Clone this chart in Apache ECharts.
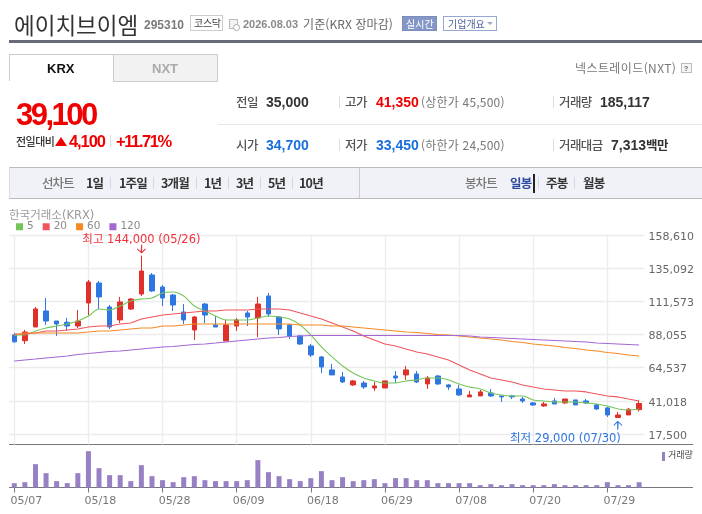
<!DOCTYPE html>
<html lang="ko"><head><meta charset="utf-8">
<style>
html,body{margin:0;padding:0;background:#fff;width:702px;height:514px;overflow:hidden}
#chart{position:absolute;left:0;top:0;width:702px;height:514px}
#head{position:absolute;left:0;top:0;width:702px;height:205px}
#head span{position:absolute;white-space:nowrap;transform:translateY(-50%);line-height:1;font-family:"Noto Sans CJK KR","Liberation Sans",sans-serif}
#head i{position:absolute;display:block;box-sizing:border-box}
</style>
<script src="https://cdn.jsdelivr.net/npm/echarts@6/dist/echarts.min.js"></script>
</head><body>
<div id="chart"></div><div id="head"></div>
<script>
const dates=["05/07","05/08","05/11","05/12","05/13","05/14","05/15","05/18","05/19","05/20","05/21","05/22","05/26","05/27","05/28","05/29","06/01","06/02","06/04","06/05","06/08","06/09","06/10","06/11","06/12","06/15","06/16","06/17","06/18","06/19","06/22","06/23","06/24","06/25","06/26","06/29","06/30","07/01","07/02","07/03","07/06","07/07","07/08","07/09","07/10","07/13","07/14","07/15","07/16","07/20","07/21","07/22","07/23","07/24","07/27","07/28","07/29","07/30","07/31","08/03"];
const opens=[87700,83650,93350,104700,97600,96700,94050,110400,124550,107550,98350,106100,116750,130250,121700,116050,104000,91250,109650,94800,83450,94050,103300,99750,115350,100450,94800,87000,79900,72100,62900,57900,52250,53650,50100,50100,58600,59350,60050,52950,58600,52250,49400,43750,44450,46550,44450,44450,42300,39500,37350,40900,39500,41600,40900,38050,35950,29200,30950,34700];
const closes=[82800,89800,106150,97600,95500,94050,97600,125250,114650,93350,111100,113200,133050,118900,113900,108950,98350,100450,101850,93350,94800,98350,100450,109650,102600,91950,86950,81300,73500,65000,59350,54350,55100,50800,51550,55100,57200,62900,54350,57200,52950,50800,45150,45150,47300,44450,43750,43750,40900,38050,38750,38750,42300,38050,39500,35200,30950,30950,35000,39100];
const lows=[82300,81300,93350,94800,87000,90550,92650,101850,106100,91950,96200,105400,115350,118200,108250,104700,95500,84150,96200,93350,83450,90550,94050,86250,100450,87700,84850,80600,72100,60750,59350,53650,51550,49400,48000,50100,53650,55800,53650,49400,52250,48700,44450,43750,44450,43750,40200,42300,39500,37350,36650,38750,38750,38050,38750,34500,29550,29000,30950,33450];
const highs=[89100,91250,107550,113900,97600,99750,105400,126700,126000,108950,114650,113900,144000,131650,123150,116750,109650,101150,110400,101150,98350,99750,104700,114650,117450,101150,95500,87700,81300,72800,67150,61450,55800,55100,54350,55100,62150,65700,62150,58600,59350,52950,52250,48000,48700,49400,44450,45150,43750,40200,40200,43000,42300,41600,42300,38750,36650,33100,35950,41350];
const ma5=[87700,87700,90550,92650,94050,95500,97600,101150,106100,105400,108250,111800,113200,113900,117450,118200,115350,108250,104700,101150,98350,98350,98350,99750,101150,100450,99050,94800,87700,79200,72100,65700,60750,57200,55100,53650,53650,55100,55800,57200,57200,55800,52950,50800,49400,46550,45150,44450,44450,41600,40900,40200,40200,40200,39500,38750,37350,35200,34500,35200];
const ma20=[88400,88400,89100,90550,90550,91250,91950,93350,94050,94050,95500,96200,99050,100450,101850,102600,103300,104000,104700,104700,105400,105400,105400,106100,106100,106100,105400,103300,101150,99050,96200,93350,90550,87000,84150,81300,79900,77750,75650,74200,72100,69950,66400,62900,60050,57200,55800,54350,52250,50800,49400,48700,48000,48000,47300,45850,44450,43750,42300,40900];
const ma60=[87700,89100,89100,89100,89100,89100,89100,89800,90550,90550,91250,91950,92650,92650,94050,94050,94800,95500,95500,95500,95500,95500,95500,95500,95500,95500,95500,94800,94800,94800,94050,94050,93350,92650,91950,91250,90550,89800,89450,88750,88050,87700,87000,86250,85550,84850,84150,83100,82350,81300,80600,79900,78800,78100,77050,76350,75300,74550,73500,72800];
const ma120=[69250,69950,70650,71400,72100,72800,73850,74550,75300,76000,76350,77050,77750,78450,79200,79550,80250,80950,81300,82000,82750,83450,84150,84850,85550,85900,86650,87000,87350,87350,87350,87350,87350,87350,87350,87350,87350,87350,87350,87350,87350,87350,87350,87000,86250,85900,85550,85200,84850,84500,84150,83800,83450,83100,82750,82000,81650,81300,80950,80600];
const volumes=[152000,187000,817000,502000,222000,152000,502000,1272000,677000,432000,432000,222000,782000,397000,257000,187000,362000,397000,257000,222000,222000,222000,257000,957000,537000,397000,292000,222000,327000,572000,257000,362000,222000,257000,292000,152000,327000,327000,257000,257000,152000,152000,152000,152000,82000,117000,82000,117000,82000,82000,82000,117000,82000,82000,82000,82000,187000,82000,82000,185117];
const yTicks=[17500,41018,64537,88055,111573,135092,158610];
const maNames=["5","20","60","120"];
const maColors=["#74c658","#f0555c","#f58a24","#a368d2"];
const RED="#e0302a",BLUE="#2f77e0",VOL="#9880c4";
const arrow="path://M4.5 0h1v7.2l3-3 .7.7L5 9.4.3 4.9l.7-.7 3 3z";
const sans="DejaVu Sans, Noto Sans CJK KR, sans-serif";

const ch=echarts.init(document.getElementById('chart'));
const maSeries=[ma5,ma20,ma60,ma120].map((d,i)=>({name:maNames[i],type:'line',data:d,xAxisIndex:0,yAxisIndex:0,symbol:'none',smooth:i===0?0.3:false,z:5,lineStyle:{width:1.1,color:maColors[i]},itemStyle:{color:maColors[i]},emphasis:{disabled:true}}));
ch.setOption({
 animation:false,
 grid:[{left:9,top:235,width:635.4,height:209.5},{left:9,top:448,width:635.4,height:39.5}],
 legend:{left:16,top:221.5,padding:0,itemWidth:7,itemHeight:7,itemGap:9,icon:'rect',selectedMode:false,data:maNames,textStyle:{fontFamily:sans,fontSize:10.5,color:'#8a8a8a',padding:[0,0,0,-1]}},
 xAxis:[
  {type:'category',gridIndex:0,data:dates,axisLine:{show:false},axisTick:{show:false},axisLabel:{show:false},
   splitLine:{show:true,alignWithLabel:true,interval:6,lineStyle:{color:'#ececec',width:1.3}}},
  {type:'category',gridIndex:1,data:dates,axisLine:{show:false},
   axisTick:{show:true,alignWithLabel:true,interval:6,length:5,lineStyle:{color:'#777'}},
   axisLabel:{interval:6,fontFamily:sans,fontSize:11,color:'#777',margin:8,padding:[0,0,0,24],hideOverlap:false},
   splitLine:{show:false}}
 ],
 yAxis:[
  {type:'value',gridIndex:0,position:'right',min:10000,max:158610,
   axisLine:{show:false},axisTick:{show:false,customValues:yTicks},
   axisLabel:{customValues:yTicks,margin:4,verticalAlign:'top',lineHeight:4,fontFamily:sans,fontSize:11,color:'#666',formatter:v=>Number(v).toLocaleString('en-US')},
   splitLine:{show:true,customValues:yTicks,lineStyle:{color:'#ececec',width:1.3}}},
  {type:'value',gridIndex:1,min:0,max:1382500,show:false,splitLine:{show:false}}
 ],
 series:[
  {name:'price',type:'candlestick',xAxisIndex:0,yAxisIndex:0,barWidth:5,z:3,
   data:opens.map((o,i)=>[o,closes[i],lows[i],highs[i]]),
   itemStyle:{color:RED,color0:BLUE,borderColor:RED,borderColor0:BLUE,borderWidth:1},
   markPoint:{symbol:arrow,symbolSize:[9,9],silent:true,z:8,data:[
     {coord:[12,144000],symbolOffset:[0,-6.5],itemStyle:{color:'#e8333a'},
      label:{show:true,position:'inside',offset:[0,-9],formatter:'최고 144,000 (05/26)',color:'#f0323c',fontFamily:sans,fontSize:11.5}},
     {coord:[57,29000],symbolRotate:180,symbolOffset:[0,7.5],itemStyle:{color:'#2f77e0'},
      label:{show:true,position:'inside',offset:[-52.5,13.5],rotate:0,formatter:'최저 29,000 (07/30)',color:'#2f77e0',fontFamily:sans,fontSize:11.5}}
   ]}},
  ...maSeries,
  {name:'volume',type:'bar',xAxisIndex:1,yAxisIndex:1,barWidth:5,data:volumes,itemStyle:{color:VOL},emphasis:{disabled:true}}
 ],
 graphic:[
  {type:'text',left:9,top:210.5,style:{text:'한국거래소(KRX)',fontFamily:sans,fontSize:11.5,fill:'#9a9a9a'}},
  {type:'line',shape:{x1:9,y1:444.5,x2:693,y2:444.5},style:{stroke:'#75787d',lineWidth:1}},
  {type:'line',shape:{x1:9,y1:487.5,x2:693,y2:487.5},style:{stroke:'#75787d',lineWidth:1}},
  {type:'rect',shape:{x:662,y:452,width:3,height:9},style:{fill:VOL}},
  {type:'text',left:668,top:451,style:{text:'거래량',fontFamily:sans,fontSize:9,fill:'#444'}}
 ]
});

const H=document.getElementById('head');
function t(x,y,s,st){const e=document.createElement('span');e.textContent=s;e.style.cssText=`left:${x}px;top:${y}px;`+(st||'');H.appendChild(e);return e}
function b(x,y,w,h,st){const e=document.createElement('i');e.style.cssText=`left:${x}px;top:${y}px;width:${w}px;height:${h}px;`+(st||'');H.appendChild(e);return e}
const LB='font-family:"Liberation Sans",sans-serif;font-weight:700;';
const NUM=LB+'font-size:14px;';
t(14,24,'에이치브이엠','font-size:22.5px;color:#333;');
t(144,24.5,'295310',LB+'font-size:12px;color:#7a7a7a;');
b(190,15,33,16,'border:1px solid #ccc;');
t(194,23,'코스닥','font-size:10px;color:#444;letter-spacing:-.3px;');
b(229,19,9,10,'border:1px solid #bbb;background:#f2f2f2;');
b(233,24,7,7,'border:1px solid #aaa;border-radius:50%;background:#fff;');
t(243,23.5,'2026.08.03',LB+'font-size:11px;color:#8a8a8a;');
t(303,23.5,'기준(KRX 장마감)','font-size:12px;color:#666;letter-spacing:.1px;');
b(402,16,35,15,'background:#8597c6;border:1px solid #7b8dbd;');
t(406,23.5,'실시간','font-size:10px;color:#fff;');
b(443,16,54,15,'border:1px solid #97a7d0;background:#fff;');
t(448,23.5,'기업개요','font-size:10px;color:#4b5f94;');
b(487,22,0,0,'border-left:3px solid transparent;border-right:3px solid transparent;border-top:3px solid #9aa8cc;');
b(9,40,693,3,'background:#666b75;');
// tabs
b(9,54,105,27,'border-top:1px solid #ccc;border-left:1px solid #ccc;background:#fff;');
t(47,67.5,'KRX',LB+'font-size:13px;color:#111;');
b(113,54,105,28,'border:1px solid #ccc;background:#f2f2f2;');
t(152,67.5,'NXT',LB+'font-size:13px;color:#aaa;');
t(575,68,'넥스트레이드(NXT)','font-size:12px;color:#777;letter-spacing:.4px;');
b(681,63,11,10,'border:1px solid #bbb;background:#f4f4f4;');
t(684,68,'?',LB+'font-size:7px;color:#666;');
// price
t(16,114,'39,100',LB+'font-size:31px;color:#f00000;letter-spacing:-2.5px;');
t(16,141,'전일대비','font-size:11px;color:#333;letter-spacing:-.5px;font-weight:500;');
b(55,137,0,0,'border-left:6.5px solid transparent;border-right:6.5px solid transparent;border-bottom:9.5px solid #f00000;');
t(69,141,'4,100',LB+'font-size:16.5px;color:#f00000;letter-spacing:-1.1px;');
b(110,135,1,12,'background:#ddd;');
t(116,141,'+11.71%',LB+'font-size:16.5px;color:#f00000;letter-spacing:-1.4px;');
b(218,124,484,1,'background:#e8e8e8;');
const L='font-size:12.5px;color:#555;font-weight:500;letter-spacing:-.6px;';
const P='font-size:12px;color:#777;letter-spacing:.2px;';
t(236,101.5,'전일',L);t(266,102,'35,000',NUM+'color:#333;');
t(236,144.5,'시가',L);t(266,145,'34,700',NUM+'color:#1a6fe0;');
b(339,96,1,12,'background:#ddd;');b(339,139,1,12,'background:#ddd;');
t(345,101.5,'고가',L);t(376,102,'41,350',NUM+'color:#f00000;');
t(421,101.5,'(상한가 45,500)',P);
t(345,144.5,'저가',L);t(376,145,'33,450',NUM+'color:#1a6fe0;');
t(421,144.5,'(하한가 24,500)',P);
b(553,96,1,12,'background:#ddd;');b(553,139,1,12,'background:#ddd;');
t(559,101.5,'거래량',L);t(600,102,'185,117',NUM+'color:#333;');
t(559,144.5,'거래대금',L);t(611,145,'7,313',NUM+'color:#333;');
t(646,144.5,'백만','font-size:12.5px;font-weight:700;color:#333;letter-spacing:-.5px;');
// toolbar
b(9,167,693,32,'background:#f0f2f7;border-top:1px solid #bbb;border-bottom:1px solid #bbb;border-left:1px solid #ddd;');
b(359,168,1,30,'background:#ccc;');
const G='font-size:12.5px;font-weight:500;color:#777;letter-spacing:-.9px;';
const D='font-size:12.5px;font-weight:700;color:#333;letter-spacing:-.8px;';
t(42,182.5,'선차트',G);
[[86,'1일'],[119,'1주일'],[161,'3개월'],[204,'1년'],[236,'3년'],[268,'5년'],[299,'10년']].forEach(a=>t(a[0],182.5,a[1],D));
[110,153,196,228,260,292,538,574].forEach(x=>b(x,177,1,12,'background:#d5d8df;'));
t(465,182.5,'봉차트',G);
t(510,182.5,'일봉',D+'color:#2d4a9e;');
b(533,174,2,19,'background:#222;');
t(546,182.5,'주봉',D);t(583,182.5,'월봉',D);
</script>
</body></html>
